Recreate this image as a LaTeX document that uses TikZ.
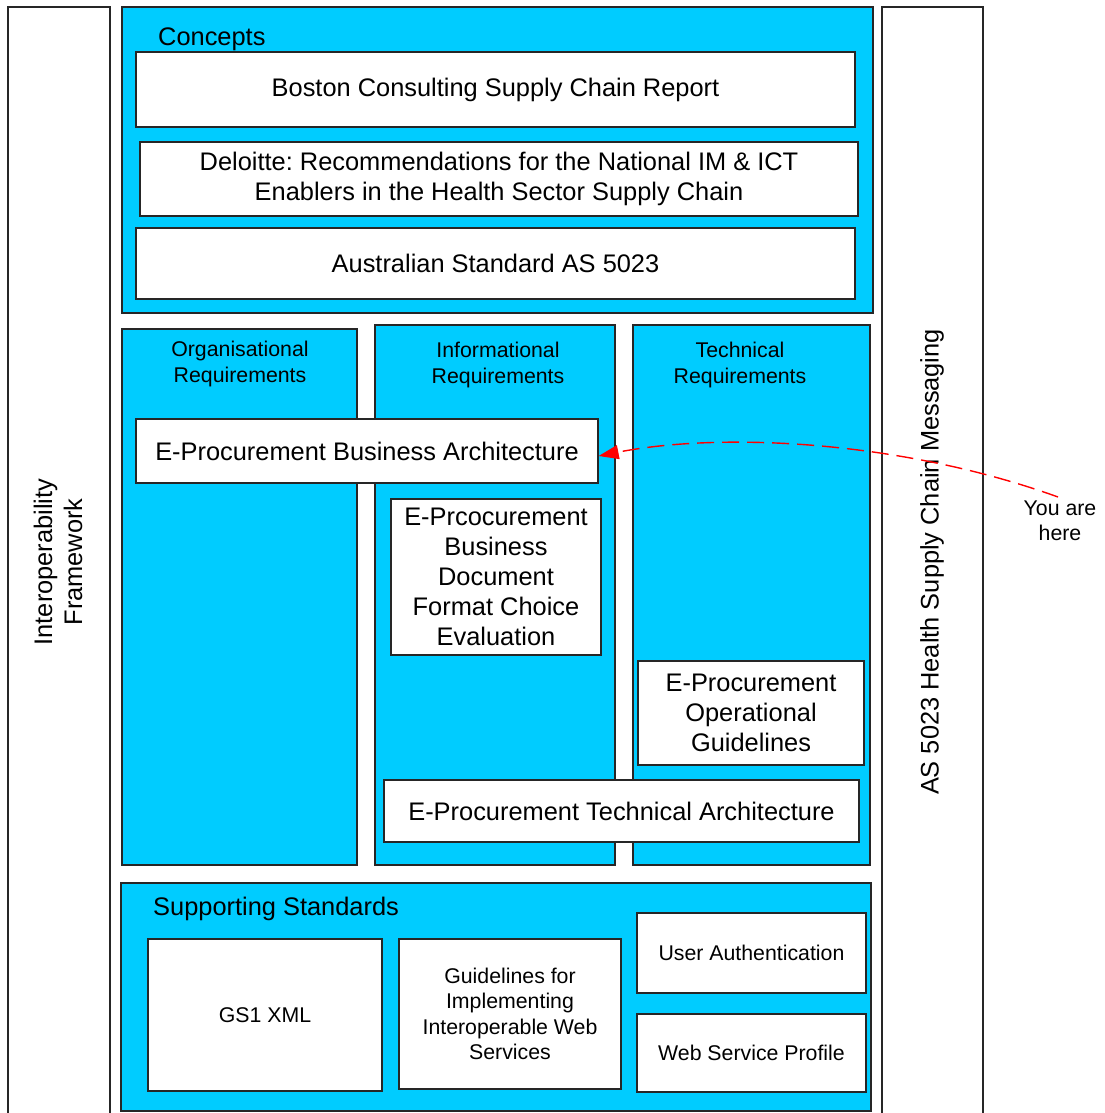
\documentclass[tikz,border=0pt]{standalone}
\usepackage{fontspec}
\setmainfont{Liberation Sans}
\usetikzlibrary{arrows.meta}
\definecolor{cyanfill}{HTML}{00CCFF}
\definecolor{edge}{HTML}{262626}
\frenchspacing
\begin{document}
\begin{tikzpicture}[x=1pt,y=-1pt,
  box/.style={draw=edge, line width=1.3pt, inner sep=0pt, align=center},
  cont/.style={box, fill=cyanfill},
  wbox/.style={box, fill=white},
  colbox/.style={box, fill=white},
  big/.style={font=\fontsize{25.4}{30}\selectfont},
  small/.style={font=\fontsize{21.3}{25.3}\selectfont},
  lbl/.style={inner sep=0pt, align=center, text=black},
  youarrow/.style={draw=red, line width=1.4pt, dash pattern=on 17pt off 8pt, -{Triangle[length=20pt,width=14pt,fill=red]}}]
\clip (0,0) rectangle (1104,1113);
\fill[white] (0,0) rectangle (1104,1113);

% side columns
\node[colbox, minimum width=102pt, minimum height=1123pt] (leftcol) at (59,568.5) {};
\node[lbl, big, rotate=90] (leftlab) at (58,562) {Interoperability\\Framework};
\node[colbox, minimum width=101pt, minimum height=1123pt] (rightcol) at (932.5,568.5) {};
\node[lbl, big, rotate=90] (rightlab) at (932,562) {AS 5023 Health Supply Chain Messaging};

% Concepts
\node[cont, minimum width=751pt, minimum height=306pt] (concepts) at (497.5,160) {};
\node[lbl, big, anchor=west] (conceptslab) at (158,39) {Concepts};
\node[wbox, big, minimum width=719pt, minimum height=75pt] (boston) at (495.5,89.5) {Boston Consulting Supply Chain Report};
\node[wbox, big, minimum width=718pt, minimum height=74pt] (deloitte) at (499,179) {Deloitte: Recommendations for the National IM \& ICT\\Enablers in the Health Sector Supply Chain};
\node[wbox, big, minimum width=719pt, minimum height=71pt] (as5023) at (495.5,263.5) {Australian Standard AS 5023};

% Requirement columns
\node[cont, minimum width=235pt, minimum height=536pt] (org) at (239.5,597) {};
\node[lbl, small] (orglab) at (240,364) {Organisational\\Requirements};
\node[cont, minimum width=240pt, minimum height=540pt] (info) at (495,595) {};
\node[lbl, small] (infolab) at (498,365) {Informational\\Requirements};
\node[cont, minimum width=237pt, minimum height=540pt] (tech) at (751.5,595) {};
\node[lbl, small] (techlab) at (740,365) {Technical\\Requirements};

\node[wbox, big, minimum width=462pt, minimum height=64pt] (epba) at (367,451) {E-Procurement Business Architecture};
\node[wbox, big, minimum width=210pt, minimum height=156pt] (epbd) at (496,577) {E-Prcocurement\\Business\\Document\\Format Choice\\Evaluation};
\node[wbox, big, minimum width=226pt, minimum height=104pt] (epog) at (751,713) {E-Procurement\\Operational\\Guidelines};
\node[wbox, big, minimum width=475pt, minimum height=62pt] (epta) at (621.5,811) {E-Procurement Technical Architecture};

% Supporting standards
\node[cont, minimum width=750pt, minimum height=228pt] (supp) at (496,997) {};
\node[lbl, big, anchor=west] (supplab) at (153,909) {Supporting Standards};
\node[wbox, small, minimum width=234pt, minimum height=152pt] (gs1) at (265,1015) {GS1 XML};
\node[wbox, small, minimum width=222pt, minimum height=150pt] (guide) at (510,1014) {Guidelines for\\Implementing\\Interoperable Web\\Services};
\node[wbox, small, minimum width=229pt, minimum height=80pt] (uauth) at (751.5,953) {User Authentication};
\node[wbox, small, minimum width=229pt, minimum height=78pt] (wsp) at (751.5,1053) {Web Service Profile};

% You are here
\node[lbl, small] (you) at (1060,521) {You are\\here};
\coordinate (youstart) at (1058,497);
\draw[youarrow] (youstart) .. controls (900,440) and (720,432) .. ([yshift=-5pt]epba.east);
\end{tikzpicture}
\end{document}
